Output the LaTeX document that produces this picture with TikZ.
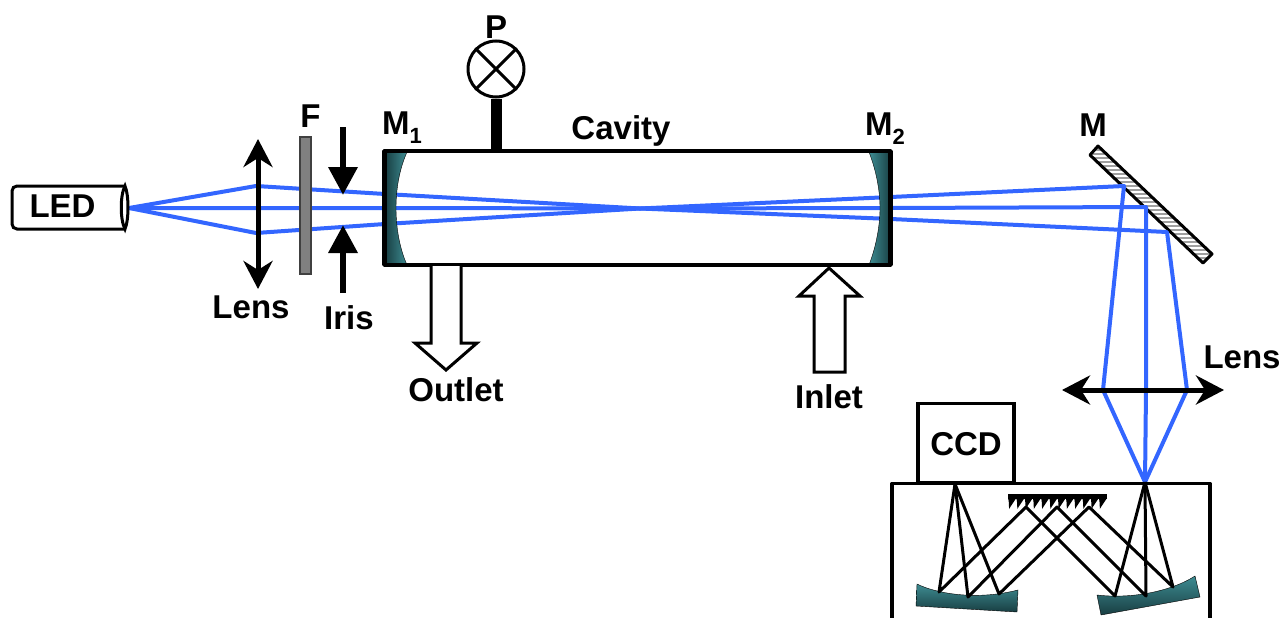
\documentclass[tikz,border=0pt]{standalone}
\usepackage{fontspec}
\setmainfont{Liberation Sans}
\usetikzlibrary{arrows.meta,positioning}
\definecolor{raycolor}{RGB}{51, 102, 255}
\definecolor{mirrordark}{RGB}{24, 62, 66}
\definecolor{mirrorlight}{RGB}{62, 140, 146}
\newcommand{\subnum}[1]{\raisebox{-9pt}{\fontsize{22}{22}\selectfont #1}}

\begin{document}
\begin{tikzpicture}[x=1pt, y=-1pt,
                lbl/.style={font=\fontsize{33}{33}\selectfont\bfseries, inner sep=0pt},
                wall/.style={draw, line width=3.4pt, line join=round},
                ray/.style={raycolor, line width=4pt, line join=round},
                thinray/.style={line width=3pt, line join=round},
                mirror/.style={draw, thin, top color=mirrorlight, bottom color=mirrordark},
                sidemirror/.style={draw, thin, left color=mirrordark, right color=mirrorlight},
                lensarrow/.style={line width=5pt, {Stealth[length=28pt, width=29pt, inset=9pt]}-{Stealth[length=28pt, width=29pt, inset=9pt]}},
                irisarrow/.style={line width=6.5pt, -{Triangle[length=28pt, width=28pt]}},
                openarrow/.style={draw, fill=white, line width=3pt, line join=miter}]
                \useasboundingbox (0,0) rectangle (1285,618);

                % Points on the rays
                \coordinate (src) at (129,208);
                \coordinate (la) at (256,186);
                \coordinate (lb) at (256,208);
                \coordinate (lc) at (256,233);
                \coordinate (ca) at (385,194);
                \coordinate (cb) at (385,208);
                \coordinate (cc) at (385,224);
                \coordinate (waist) at (640,208.5);
                \coordinate (da) at (891,197);
                \coordinate (db) at (891,208);
                \coordinate (dc) at (891,219);
                \coordinate (ma) at (1124,186);
                \coordinate (mb) at (1146,207);
                \coordinate (mc) at (1167,232);
                \coordinate (fa) at (1103,390);
                \coordinate (fb) at (1146,390);
                \coordinate (fc) at (1187,390);
                \coordinate (slit) at (1145,482);
                \coordinate (ccdin) at (955,484);

                % Folding mirror M
                \begin{scope}
                    \clip (1098,146) -- (1090,155) -- (1203,263) -- (1212,254) -- cycle;
                    \fill[gray!75] (1085,140) rectangle (1215,268);
                    \foreach \hy in {144,148,...,268} {
                        \draw[white, line width=1.3pt] (1085,\hy) -- (1215,\hy);
                    }
                \end{scope}
                \draw[line width=3pt, line join=round] (1098,146) -- (1090,155) -- (1203,263) -- (1212,254) -- cycle;

                % Rays
                \draw[ray] (src) -- (la) -- (ca) -- (waist) -- (da) -- (ma) -- (fa) -- (slit);
                \draw[ray] (src) -- (lb) -- (cb) -- (waist) -- (db) -- (mb) -- (fb) -- (slit);
                \draw[ray] (src) -- (lc) -- (cc) -- (waist) -- (dc) -- (mc) -- (fc) -- (slit);

                % LED
                \draw[line width=3pt, fill=white] (125,186) -- (17,186) to[out=180, in=90] (12,191) -- (12,224) to[out=270, in=180] (17,229) -- (125,229);
                \draw[line width=3pt] (125,186) .. controls (120,195) and (120,220) .. (125,229) .. controls (129,220) and (129,195) .. (125,186) -- cycle;
                \node[lbl] (led) at (62.5,206) {LED};

                % Lens, filter, iris
                \draw[lensarrow] (258,139) -- (258,289);
                \node[lbl] (lens1) at (251,307) {Lens};
                \node[draw=black!75, fill=gray, line width=1.4pt, minimum width=11pt, minimum height=137pt, inner sep=0pt] (filter) at (305.5,205.5) {};
                \node[lbl, above=9pt of filter, xshift=5pt] (flabel) {F};
                \coordinate (iristop) at (343,127);
                \coordinate (irisbot) at (343,293);
                \draw[irisarrow] (iristop) -- (343,195);
                \draw[irisarrow] (irisbot) -- (343,225);
                \node[lbl] (iris) at (349,318) {Iris};

                % Cavity
                \path[sidemirror] (385,152) -- (407,152) .. controls (399,170) and (396,190) .. (396,208) .. controls (396,226) and (399,247) .. (407,265) -- (385,265) -- cycle;
                \path[sidemirror, left color=mirrorlight, right color=mirrordark] (891,152) -- (869,152) .. controls (876,170) and (880,190) .. (880,208) .. controls (880,226) and (876,247) .. (869,265) -- (891,265) -- cycle;
                \draw[wall] (384,151) rectangle (891,265);
                \draw[line width=4.4pt] (385,151) -- (385,265);
                \draw[line width=4.4pt] (890,151) -- (890,265);
                \node[lbl] (m1) at (402,128) {M\subnum{1}};
                \node[lbl] (m2) at (885,129) {M\subnum{2}};
                \node[lbl] (cavity) at (621,131) {Cavity};

                % Pressure gauge
                \node[draw, circle, line width=3pt, minimum size=56pt, inner sep=0pt] (gauge) at (496,69) {};
                \draw[line width=3pt] (gauge.north west) -- (gauge.south east);
                \draw[line width=3pt] (gauge.north east) -- (gauge.south west);
                \coordinate (stem) at (496,151);
                \draw[line width=11pt] (gauge.south) -- (stem);
                \node[lbl, above=1pt of gauge] (plabel) {P};

                % Outlet and inlet
                \draw[openarrow] (431,266) -- (431,343) -- (415,343) -- (446,370) -- (477,343) -- (461,343) -- (461,266);
                \node[lbl] (outlet) at (456,390) {Outlet};
                \draw[openarrow] (829,268) -- (799,296) -- (814,296) -- (814,372) -- (845,372) -- (845,296) -- (860,296) -- cycle;
                \node[lbl] (inlet) at (829,397) {Inlet};

                % Folding mirror label, second lens
                \node[lbl] (mlabel) at (1093,125) {M};
                \draw[lensarrow] (1062,390) -- (1224,390);
                \node[lbl] (lens2) at (1242,357) {Lens};

                % CCD and spectrograph
                \node[draw, line width=3.4pt, minimum width=96pt, minimum height=79pt, inner sep=0pt] (ccd) at (966,443) {};
                \node[lbl] (ccdlabel) at (966,444) {CCD};
                \draw[wall] (892,618) -- (892,483.5) -- (1210,483.5) -- (1210,618);

                % Grating
                \fill (1008,494) rectangle (1107,499);
                \foreach \gx in {1008,1016.25,...,1100} {
                    \fill (\gx,498) -- (\gx+8.25,498) -- (\gx+1,509) .. controls (\gx+1,505) and (\gx+1,501) .. (\gx,498) -- cycle;
                }

                % Spectrograph mirrors
                \path[mirror] (917,584) .. controls (935,593) and (975,601) .. (1018,590) -- (1017,612) -- (916,606) -- cycle;
                \path[mirror] (1097,595) .. controls (1130,599) and (1170,592) .. (1195,576) -- (1200,597) -- (1101,615) -- cycle;

                % Rays in the spectrograph
                \coordinate (pa) at (939,592);
                \coordinate (pb) at (968,597);
                \coordinate (pc) at (999,594);
                \coordinate (ga) at (1026,507);
                \coordinate (gb) at (1057,507);
                \coordinate (gc) at (1089,507);
                \coordinate (qa) at (1115,596);
                \coordinate (qb) at (1146,596);
                \coordinate (qc) at (1173,587);
                \draw[thinray] (ccdin) -- (pa) -- (ga) -- (qa) -- (slit);
                \draw[thinray] (ccdin) -- (pb) -- (gb) -- (qb) -- (slit);
                \draw[thinray] (ccdin) -- (pc) -- (gc) -- (qc) -- (slit);
\end{tikzpicture}
\end{document}
